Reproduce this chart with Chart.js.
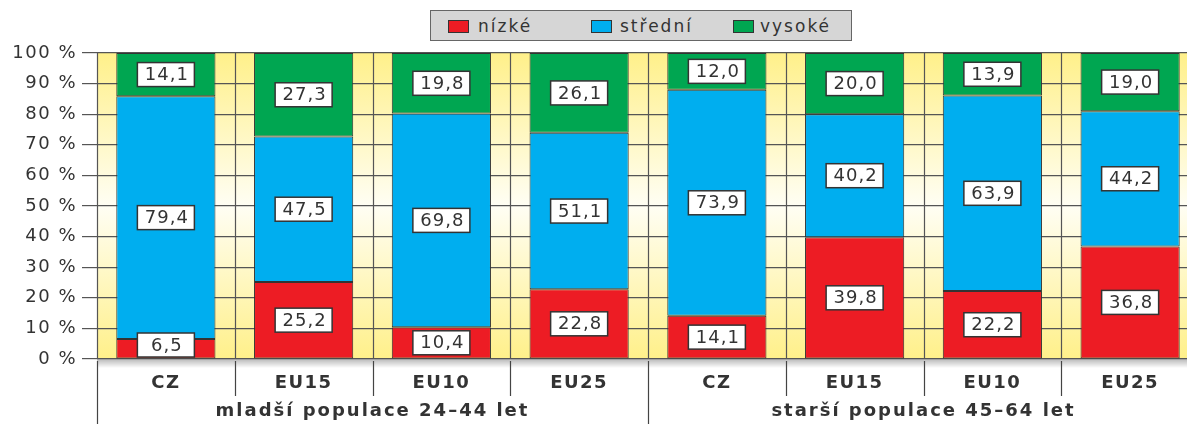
<!DOCTYPE html>
<html>
<head>
<meta charset="utf-8">
<script src="https://cdn.jsdelivr.net/npm/chart.js@4"></script>
<style>
    html, body { margin: 0; padding: 0; background: #fff; overflow: hidden; }
    #wrap { position: relative; width: 1205px; height: 424px; }
    .legend {
        position: absolute; left: 430px; top: 10px; width: 422px; height: 31px;
        background: #d6d6d6; border: 1.5px solid #666; box-sizing: border-box;
        font-family: "DejaVu Sans", sans-serif; font-size: 17px; color: #333; letter-spacing: 2px;
        line-height: 20px;
    }
    .legend span { position: absolute; top: 5px; }
    .legend i { position: absolute; top: 9px; width: 19px; height: 11px; border: 1px solid #333; }
</style>
</head>
<body>
<div id="wrap">
    <canvas id="chart"></canvas>
    <div class="legend" id="legend"></div>
</div>
<script>
// Chart data
const categories = ['CZ', 'EU15', 'EU10', 'EU25', 'CZ', 'EU15', 'EU10', 'EU25'];
const groups = ['mladší populace 24–44 let', 'starší populace 45–64 let'];
const nizke = [6.5, 25.2, 10.4, 22.8, 14.1, 39.8, 22.2, 36.8];
const stredni = [79.4, 47.5, 69.8, 51.1, 73.9, 40.2, 63.9, 44.2];
const vysoke = [14.1, 27.3, 19.8, 26.1, 12.0, 20.0, 13.9, 19.0];
const seriesNames = ['nízké', 'střední', 'vysoké'];

const colors = {
    red: '#ed1c24',
    blue: '#00aeef',
    green: '#00a651',
    text: '#333333',
    line: '#555555'
};
const fontFamily = '"DejaVu Sans", sans-serif';

// Build html legend
const legendPos = [[17, 47], [160, 189], [302, 329]];
const legendColors = [colors.red, colors.blue, colors.green];
document.getElementById('legend').innerHTML = seriesNames.map((name, i) =>
    `<i style="left:${legendPos[i][0]}px;background:${legendColors[i]}"></i><span style="left:${legendPos[i][1]}px">${name}</span>`
).join('');

// Yellow strips, shadow, boundary lines, value boxes, group labels
const stripPlugin = {
    id: 'strips',
    beforeDraw(chart) {
        const { ctx, chartArea: a } = chart;
        ctx.letterSpacing = '1.5px';
        ctx.save();
        const g = ctx.createLinearGradient(0, a.top, 0, a.bottom);
        g.addColorStop(0, '#fff08a');
        g.addColorStop(0.5, '#fffef4');
        g.addColorStop(1, '#fff08a');
        ctx.fillStyle = g;
        ctx.fillRect(a.left, a.top, a.right - a.left, a.bottom - a.top);
        const s = ctx.createLinearGradient(0, a.bottom, 0, a.bottom + 9);
        s.addColorStop(0, 'rgba(0,0,0,0.28)');
        s.addColorStop(1, 'rgba(0,0,0,0)');
        ctx.fillStyle = s;
        ctx.fillRect(a.left, a.bottom, a.right - a.left, 9);
        ctx.restore();
    },
    beforeDatasetsDraw(chart) {
        const { ctx, chartArea: a } = chart;
        const w = (a.right - a.left) / categories.length;
        ctx.save();
        ctx.strokeStyle = colors.line;
        ctx.lineWidth = 1.2;
        for (let i = 0; i <= categories.length; i++) {
            const bx = Math.round(a.left + i * w) + 0.5;
            ctx.beginPath();
            ctx.moveTo(bx, a.top);
            ctx.lineTo(bx, a.bottom);
            ctx.stroke();
        }
        ctx.restore();
    },
    afterDatasetsDraw(chart) {
        const { ctx, chartArea: a } = chart;
        ctx.save();
        ctx.letterSpacing = '1px';
        ctx.font = `18px ${fontFamily}`;
        ctx.textAlign = 'center';
        ctx.textBaseline = 'middle';
        chart.data.datasets.forEach((ds, di) => {
            const meta = chart.getDatasetMeta(di);
            meta.data.forEach((bar, i) => {
                let cy = (bar.y + bar.base) / 2;
                cy = Math.min(Math.max(cy, a.top + 14), a.bottom - 14);
                const bw = 57, bh = 24;
                ctx.fillStyle = '#fff';
                ctx.fillRect(bar.x - bw / 2, cy - bh / 2, bw, bh);
                ctx.strokeStyle = colors.text;
                ctx.lineWidth = 1.5;
                ctx.strokeRect(bar.x - bw / 2, cy - bh / 2, bw, bh);
                ctx.fillStyle = colors.text;
                ctx.fillText(ds.data[i].toFixed(1).replace('.', ','), bar.x + 1, cy + 1);
            });
        });
        ctx.restore();
    },
    afterDraw(chart) {
        const { ctx, chartArea: a } = chart;
        const w = (a.right - a.left) / categories.length;
        const half = categories.length / 2;
        ctx.save();
        ctx.strokeStyle = '#444';
        ctx.lineWidth = 1.2;
        for (let i = 0; i <= categories.length; i++) {
            const bx = Math.round(a.left + i * w) + 0.5;
            ctx.beginPath();
            ctx.moveTo(bx, a.bottom + 2);
            ctx.lineTo(bx, i % half === 0 ? chart.height : a.bottom + 37);
            ctx.stroke();
        }
        ctx.letterSpacing = '2px';
        ctx.font = `bold 18px ${fontFamily}`;
        ctx.fillStyle = colors.text;
        ctx.textAlign = 'center';
        ctx.textBaseline = 'middle';
        groups.forEach((g, gi) => {
            const gx = a.left + (gi * half + half / 2) * w;
            ctx.fillText(g, gx, 411);
        });
        ctx.restore();
    }
};

const ctx = document.getElementById('chart');

new Chart(ctx, {
    type: 'bar',
    data: {
        labels: categories,
        datasets: [
            { label: seriesNames[0], data: nizke, backgroundColor: colors.red },
            { label: seriesNames[1], data: stredni, backgroundColor: colors.blue },
            { label: seriesNames[2], data: vysoke, backgroundColor: colors.green }
        ].map(d => Object.assign(d, {
            borderColor: '#333',
            borderWidth: 1,
            borderSkipped: false,
            barPercentage: 0.72,
            categoryPercentage: 1
        }))
    },
    options: {
        responsive: true,
        maintainAspectRatio: false,
        animation: false,
        layout: { padding: { top: 53, right: 6, left: 0, bottom: 0 } },
        plugins: {
            legend: { display: false },
            tooltip: { enabled: false }
        },
        scales: {
            x: {
                stacked: true,
                grid: { display: false },
                border: { display: false },
                ticks: {
                    color: colors.text,
                    font: { family: fontFamily, size: 18, weight: 'bold' },
                    padding: 6,
                    maxRotation: 0
                },
                afterFit(scale) { scale.height = 65; }
            },
            y: {
                stacked: true,
                min: 0,
                max: 100,
                grid: { color: colors.line, lineWidth: 1.2, tickLength: 15 },
                border: { display: false },
                ticks: {
                    stepSize: 10,
                    color: colors.text,
                    font: { family: fontFamily, size: 18 },
                    padding: 5,
                    callback: v => v + ' %'
                },
                afterFit(scale) { scale.width = 97; }
            }
        }
    },
    plugins: [stripPlugin]
});
</script>
</body>
</html>
